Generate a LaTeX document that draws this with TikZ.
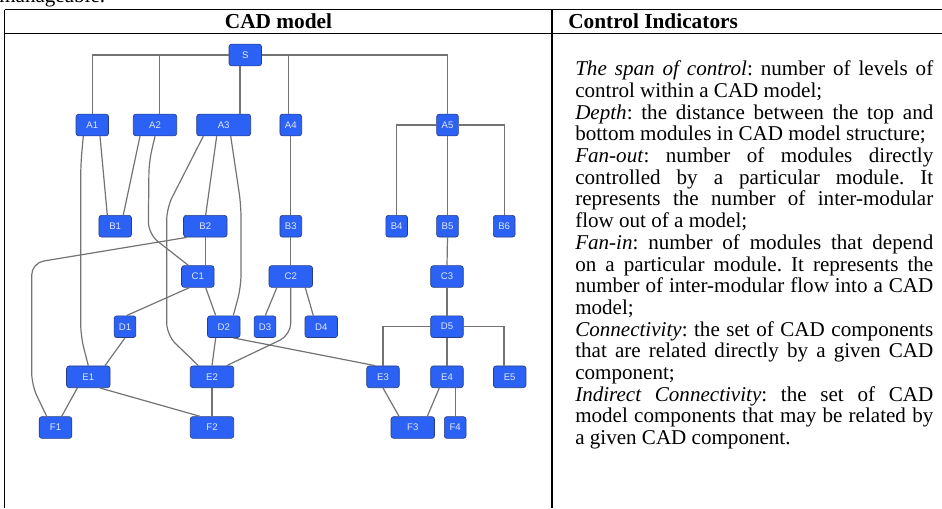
\documentclass[tikz,border=0pt]{standalone}
\usepackage{fontspec}
\setmainfont{Liberation Serif}
\newfontfamily\nodefont{Liberation Sans}
\usetikzlibrary{calc}
\definecolor{nodeblue}{RGB}{43,98,245}
\definecolor{nodeedge}{RGB}{40,62,130}
\definecolor{edgegray}{RGB}{115,115,115}
\definecolor{nodetext}{RGB}{225,232,255}
\newcommand\jl[1]{\makebox[268.5pt][s]{#1}}
\frenchspacing
\begin{document}
\frenchspacing
\begin{tikzpicture}[x=0.75pt,y=-0.75pt,
 mod/.style={draw=nodeedge, line width=0.5pt, fill=nodeblue, rounded corners=2pt, minimum height=16.3pt, inner sep=0pt, text=nodetext, font=\nodefont\fontsize{7.2}{8}\selectfont},
 ws/.style={minimum width=16.3pt}, wm/.style={minimum width=24.4pt}, wl/.style={minimum width=32.6pt}, wx/.style={minimum width=40.5pt},
 link/.style={draw=edgegray, line width=0.9pt},
 curved/.style={link, rounded corners=9pt},
 rule/.style={line width=1.4pt},
 body/.style={anchor=base west, inner sep=0pt, font=\frenchspacing\fontsize{15.8}{17}\selectfont},
 head/.style={anchor=base, inner sep=0pt, font=\bfseries\fontsize{16}{17}\selectfont}]
\useasboundingbox (0,0) rectangle (942,508);
\clip (0,0) rectangle (942,508);
% fragment of previous text
\node[anchor=base west, inner sep=0pt, font=\fontsize{15.8}{17}\selectfont] (frag) at (-1,2) {manageable.};
% table rules
\draw[rule] (4.5,9.5) -- (942,9.5);
\draw[rule] (4.5,33.5) -- (942,33.5);
\draw[rule] (4.5,9.5) -- (4.5,508);
\draw[rule] (552,9.5) -- (552,508);
\node[head] (h1) at (278.5,28.3) {CAD model};
\node[head, anchor=base west] (h2) at (568,28.3) {Control Indicators};
% nodes
\node[mod, wm] (S) at (245.3,55) {S};
\node[mod, wm] (A1) at (92.3,125) {A1};
\node[mod, wl] (A2) at (155,125) {A2};
\node[mod, wx] (A3) at (223.7,125) {A3};
\node[mod, ws] (A4) at (290.8,125) {A4};
\node[mod, ws] (A5) at (447.5,125) {A5};
\node[mod, wm] (B1) at (115.2,226.2) {B1};
\node[mod, wl] (B2) at (205.3,226.2) {B2};
\node[mod, ws] (B3) at (290.8,226.2) {B3};
\node[mod, ws] (B4) at (396.7,226.2) {B4};
\node[mod, ws] (B5) at (447.5,226.2) {B5};
\node[mod, ws] (B6) at (504.2,226.2) {B6};
\node[mod, wm] (C1) at (197.8,276.5) {C1};
\node[mod, wl] (C2) at (290.8,276.5) {C2};
\node[mod, wm] (C3) at (447,276.5) {C3};
\node[mod, ws] (D1) at (125,326.7) {D1};
\node[mod, wm] (D2) at (223.8,326.7) {D2};
\node[mod, ws] (D3) at (265,326.7) {D3};
\node[mod, wm] (D4) at (321.3,326.7) {D4};
\node[mod, wm] (D5) at (447,326.7) {D5};
\node[mod, wl] (E1) at (88.3,376.8) {E1};
\node[mod, wl] (E2) at (212,376.8) {E2};
\node[mod, wm] (E3) at (383,376.8) {E3};
\node[mod, wm] (E4) at (447,376.8) {E4};
\node[mod, wm] (E5) at (509.7,376.8) {E5};
\node[mod, wm] (F1) at (55.5,427.5) {F1};
\node[mod, wl] (F2) at (212,427.5) {F2};
\node[mod, wl] (F3) at (412.8,427.5) {F3};
\node[mod, ws] (F4) at (455.2,427.5) {F4};
% connectors
\draw[link] (S.west) -| (A1.north);
\draw[link] (S.west) -| ($(A2.north)+(4.3,0)$);
\draw[link] ($(S.south)+(-5.3,0)$) coordinate (s3) -- (s3 |- A3.north);
\draw[link] (S.east) -| ($(A4.north)+(-2.5,0)$);
\draw[link] (S.east) -| (A5.north);
\draw[link] (A5.west) -| (B4.north);
\draw[link] (A5.south) -- (B5.north);
\draw[link] (A5.east) -| (B6.north);
\draw[link] (A4.south) -- (B3.north);
\draw[link] ($(A1.south)+(7.7,0)$) -- ($(B1.north)+(-7.9,0)$);
\draw[link] ($(A2.south)+(-15,0)$) -- ($(B1.north)+(8.1,0)$);
\draw[curved] ($(A1.south)+(-9,0)$) -- (80.7,165) -- (80.7,336) -- (E1.north);
\draw[curved] (A2.south) -- (149,162) -- (148.3,234) -- ($(C1.north)+(-9.5,0)$);
\draw[curved] ($(A3.south)+(-20.4,0)$) -- (166.7,208) -- (166.7,335) -- ($(E2.north)+(-13.7,0)$);
\draw[link] ($(A3.south)+(-7,0)$) -- ($(B2.north)+(0.4,0)$);
\draw[curved] ($(A3.south)+(7,0)$) -- (241,205) -- (241,287) -- ($(D2.north)+(9.5,0)$);
\draw[link] (B2.south) -- (B2.south |- C1.north);
\draw[curved] ($(B2.south)+(-18.6,0)$) -- (31.7,263) -- (31.7,385) -- ($(F1.north)+(-8.8,0)$);
\draw[link] (B3.south) -- (C2.north);
\draw[link] (B5.south) -- (C3.north);
\draw[link] ($(C1.south)+(-8.5,0)$) -- ($(D1.north)+(1.7,0)$);
\draw[link] ($(C1.south)+(7.9,0)$) -- ($(D2.north)+(-8.1,0)$);
\draw[link] ($(C2.south)+(-14,0)$) -- ($(D3.north)+(0.3,0)$);
\draw[link] ($(C2.south)+(14.5,0)$) -- ($(D4.north)+(-8,0)$);
\draw[curved] (C2.south) -- (290.8,335) -- ($(E2.north)+(14.7,0)$);
\draw[link] (C3.south) -- (D5.north);
\draw[link] (D1.south) -- ($(E1.north)+(16.7,0)$);
\draw[link] ($(D2.south)+(-8.1,0)$) -- (E2.north);
\draw[link] ($(D2.south)+(9.5,0)$) -- ($(E3.north)+(-8,0)$);
\draw[link] (D5.west) -| (E3.north);
\draw[link] (D5.south) -- (E4.north);
\draw[link] (D5.east) -| ($(E5.north)+(-5.7,0)$);
\draw[link] ($(E1.south)+(-11,0)$) -- ($(F1.north)+(6.2,0)$);
\draw[link] ($(E1.south)+(11.7,0)$) -- ($(F2.north)+(-12,0)$);
\draw[link] (E2.south) -- (F2.north);
\draw[link] (E3.south) -- ($(F3.north)+(-13.8,0)$);
\draw[link] ($(E4.south)+(-7.7,0)$) -- ($(F3.north)+(14.5,0)$);
\draw[link] (F4.north |- E4.south) -- (F4.north);
% text column
\node[body] (t1) at (575,75.7) {\jl{\textit{The span of control}: number of levels of}};
\node[body] (t2) at (575,97.4) {control within a CAD model;};
\node[body] (t3) at (575,119.1) {\jl{\textit{Depth}: the distance between the top and}};
\node[body] (t4) at (575,140.8) {bottom modules in CAD model structure;};
\node[body] (t5) at (575,162.5) {\jl{\textit{Fan-out}: number of modules directly}};
\node[body] (t6) at (575,184.2) {\jl{controlled by a particular module. It}};
\node[body] (t7) at (575,205.9) {\jl{represents the number of inter-modular}};
\node[body] (t8) at (575,227.6) {flow out of a model;};
\node[body] (t9) at (575,249.3) {\jl{\textit{Fan-in}: number of modules that depend}};
\node[body] (t10) at (575,271) {\jl{on a particular module. It represents the}};
\node[body] (t11) at (575,292.7) {\jl{number of inter-modular flow into a CAD}};
\node[body] (t12) at (575,314.4) {model;};
\node[body] (t13) at (575,336.1) {\jl{\textit{Connectivity}: the set of CAD components}};
\node[body] (t14) at (575,357.8) {\jl{that are related directly by a given CAD}};
\node[body] (t15) at (575,379.5) {component;};
\node[body] (t16) at (575,401.2) {\jl{\textit{Indirect Connectivity}: the set of CAD}};
\node[body] (t17) at (575,422.9) {\jl{model components that may be related by}};
\node[body] (t18) at (575,444.6) {a given CAD component.};
\end{tikzpicture}
\end{document}
